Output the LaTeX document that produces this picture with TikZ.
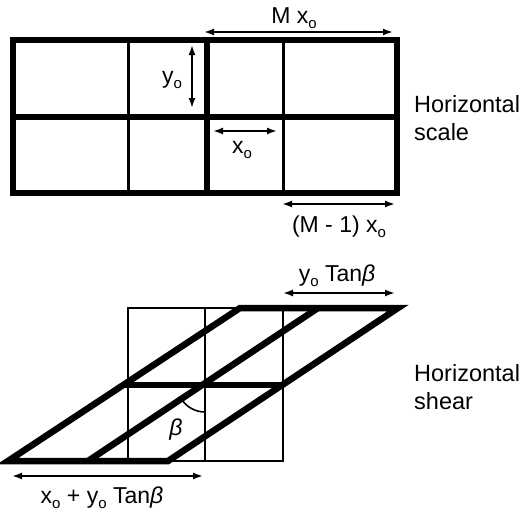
\documentclass[tikz,border=0pt]{standalone}
\usepackage{fontspec}
\setmainfont{Liberation Sans}
\usetikzlibrary{arrows.meta}
\newcommand{\sbo}{\raisebox{-0.22em}{\fontsize{15}{15}\selectfont o}}
\newcommand{\bet}{{\itshape β}}
\begin{document}
\begin{tikzpicture}[x=1pt,y=-1pt,
 thickln/.style={line width=6.5pt},
 thinln/.style={line width=3pt},
 gridln/.style={line width=1.6pt},
 dim/.style={line width=1.8pt,{Latex[length=10pt,width=7pt]}-{Latex[length=10pt,width=7pt]}},
 lbl/.style={font=\fontsize{23}{26}\selectfont, inner sep=0pt},
 side/.style={font=\fontsize{23.5}{28}\selectfont, align=left, anchor=west, inner sep=0pt}]
\useasboundingbox (0,0) rectangle (527,512);
% ---------- top: horizontal scale ----------
\draw[thinln] (128,40) -- (128,193);
\draw[thinln] (283,40) -- (283,193);
\draw[thickln] (13,40) rectangle (397,193);
\draw[thickln] (13,117) -- (397,117);
\draw[thickln] (207,40) -- (207,193);
\coordinate (m1) at (204,32); \coordinate (m2) at (393,32);
\draw[dim] (m1) -- (m2);
\node[lbl] (mx) at (294,18) {M x\sbo};
\coordinate (y1) at (192,45); \coordinate (y2) at (192,108);
\draw[dim] (y1) -- (y2);
\node[lbl] (yo) at (172,80) {y\sbo};
\coordinate (x1) at (213,131); \coordinate (x2) at (277,131);
\draw[dim] (x1) -- (x2);
\node[lbl] (xo) at (242,150) {x\sbo};
\coordinate (mm1) at (282,204); \coordinate (mm2) at (395,204);
\draw[dim] (mm1) -- (mm2);
\node[lbl] (mmx) at (339,227) {(M - 1) x\sbo};
\node[side] (hs) at (414,118) {Horizontal\\scale};
% ---------- bottom: horizontal shear ----------
\draw[gridln] (128,308) rectangle (283,461);
\draw[gridln] (205,308) -- (205,461);
\draw[gridln] (128,385) -- (283,385);
\coordinate (b0) at (8,461); \coordinate (b1) at (88,461); \coordinate (b2) at (168,461);
\coordinate (t0) at (240,308); \coordinate (t1) at (318,308); \coordinate (t2) at (398,308);
\coordinate (c0) at (124,385); \coordinate (c2) at (283,385);
\draw[thickln, line join=miter] (b0) -- (b2) -- (t2) -- (t0) -- cycle;
\draw[thickln] (b1) -- (t1);
\draw[thickln] (c0) -- (c2);
\draw[line width=1.6pt] (205,412) arc[start angle=90, end angle=146.6, radius=28];
\node[lbl] (beta) at (176,430) {\bet};
\coordinate (s1) at (283,293); \coordinate (s2) at (395,293);
\draw[dim] (s1) -- (s2);
\node[lbl] (ytan) at (337,276) {y\sbo\ Tan\bet};
\coordinate (w1) at (12,476); \coordinate (w2) at (203,476);
\draw[dim] (w1) -- (w2);
\node[lbl] (xytan) at (102,498) {x\sbo\ + y\sbo\ Tan\bet};
\node[side] (hsh) at (414,387) {Horizontal\\shear};
\end{tikzpicture}
\end{document}
